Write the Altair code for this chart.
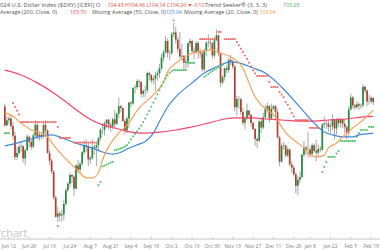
import altair as alt
import pandas as pd

# ---------------- data (U.S. Dollar Index, daily) ----------------
opens = [104.10, 103.35,
    103.55, 103.62, 103.33, 102.95, 102.12,
    102.27, 102.52, 102.54, 102.06, 102.38,
    102.91, 102.71, 102.52, 102.96, 103.37,
    102.91, 102.98, 102.92, 103.37, 103.15,
    102.27, 101.97, 101.55, 100.53, 99.78,
    99.91, 99.83, 99.88, 100.28, 100.82,
    101.07, 101.41, 101.34, 100.89, 101.78,
    101.62, 101.86, 102.30, 102.58, 102.55,
    102.02, 102.08, 102.51, 102.48, 102.58,
    102.85, 103.18, 103.18, 103.43, 103.57,
    103.37, 103.31, 103.59, 103.41, 103.81,
    104.10, 104.03, 103.52, 103.16, 103.62,
    104.24, 104.21, 104.82, 104.84, 105.08,
    105.05, 104.58, 104.71, 104.73, 105.40,
    105.32, 105.11, 105.17, 105.32, 105.39,
    105.58, 106.00, 106.21, 106.65, 106.18,
    106.17, 106.92, 106.98, 106.70, 106.34,
    106.04, 106.07, 105.80, 105.85, 106.56,
    106.65, 106.25, 106.22, 106.57, 106.25,
    106.16, 105.54, 106.26, 106.57, 106.59,
    106.56, 106.08, 106.67, 106.87, 106.16,
    105.02, 105.24, 105.58, 105.51, 105.91,
    105.85, 105.65, 104.06, 104.38, 104.37,
    103.87, 103.45, 103.62, 103.93, 103.76,
    103.44, 103.21, 102.82, 102.75, 103.50,
    103.27, 103.67, 103.99, 104.11, 103.62,
    104.00, 104.10, 103.87, 102.88, 101.93,
    102.55, 102.57, 102.18, 102.41, 101.82,
    101.70, 101.44, 100.99, 101.23,
    101.33, 102.20, 102.49, 102.42,
    102.41, 102.23, 102.57, 102.36, 102.28,
    102.43, 102.40, 103.38, 103.43, 103.42,
    103.29, 103.32, 103.59, 103.23, 103.58,
    103.44, 103.59, 103.41, 103.28, 103.07,
    103.97, 104.44, 104.13, 104.06, 104.18,
    104.12, 104.14, 104.86, 104.71, 104.28,
    104.29, 104.43]
highs = [104.20, 103.70,
    103.70, 103.75, 103.50, 103.10, 102.50,
    102.60, 102.70, 102.60, 102.45, 103.00,
    102.95, 102.80, 103.05, 103.55, 103.45,
    103.10, 103.05, 103.45, 103.55, 103.20,
    102.40, 102.05, 101.60, 100.60, 100.15,
    100.00, 100.05, 100.45, 100.90, 101.15,
    101.50, 101.45, 101.40, 101.85, 102.00,
    101.90, 102.35, 102.75, 102.80, 102.65,
    102.15, 102.80, 102.60, 102.65, 102.90,
    103.25, 103.45, 103.50, 103.60, 103.60,
    103.45, 103.65, 103.95, 103.85, 104.45,
    104.15, 104.05, 103.60, 103.70, 104.25,
    104.30, 104.80, 104.95, 105.15, 105.15,
    105.05, 104.75, 104.90, 105.45, 105.45,
    105.35, 105.25, 105.45, 105.50, 105.75,
    106.15, 106.30, 106.85, 106.75, 106.30,
    107.00, 107.35, 107.20, 106.80, 107.00,
    106.55, 106.10, 106.00, 106.60, 106.75,
    106.70, 106.40, 106.65, 106.65, 106.35,
    106.30, 106.35, 106.65, 106.90, 106.70,
    106.60, 106.80, 107.10, 106.90, 106.20,
    105.30, 105.60, 105.70, 106.00, 106.10,
    105.90, 105.70, 104.50, 104.50, 104.45,
    104.05, 103.70, 104.20, 103.95, 103.80,
    103.50, 103.25, 102.90, 103.55, 103.65,
    103.85, 104.15, 104.25, 104.15, 104.20,
    104.15, 104.15, 104.00, 102.95, 102.65,
    102.70, 102.60, 102.50, 102.45, 101.95,
    101.80, 101.50, 101.35, 101.55,
    102.25, 102.75, 102.55, 103.10,
    102.50, 102.65, 102.65, 102.80, 102.60,
    102.55, 103.45, 103.70, 103.55, 103.55,
    103.45, 103.80, 103.60, 103.65, 103.65,
    103.65, 103.60, 103.60, 103.35, 104.10,
    104.60, 104.50, 104.20, 104.30, 104.25,
    104.20, 104.97, 104.90, 104.75, 104.55,
    104.50, 104.43]
lows = [103.30, 103.35,
    103.40, 103.20, 102.80, 102.00, 102.00,
    102.20, 102.30, 101.90, 101.80, 102.35,
    102.50, 102.40, 102.45, 102.90, 102.80,
    102.75, 102.80, 102.85, 102.90, 102.25,
    101.80, 101.45, 100.45, 99.75, 99.57,
    99.60, 99.58, 99.65, 100.20, 100.75,
    100.95, 101.10, 100.60, 100.85, 101.50,
    101.45, 101.75, 102.20, 102.30, 101.75,
    101.85, 102.00, 102.20, 101.75, 102.40,
    102.75, 103.00, 102.95, 103.25, 103.20,
    103.10, 103.20, 103.25, 103.35, 103.65,
    103.85, 103.50, 103.00, 103.05, 103.25,
    104.05, 104.15, 104.60, 104.75, 104.85,
    104.45, 104.45, 104.45, 104.60, 105.10,
    105.00, 104.95, 104.70, 105.10, 105.20,
    105.50, 105.85, 106.15, 106.00, 105.90,
    106.10, 106.80, 106.55, 106.20, 105.95,
    105.90, 105.55, 105.55, 105.60, 106.40,
    106.15, 105.95, 106.15, 105.95, 106.00,
    105.45, 105.45, 106.05, 106.40, 106.30,
    105.95, 106.00, 106.65, 106.05, 104.85,
    104.95, 105.10, 105.40, 105.40, 105.70,
    105.55, 103.90, 103.75, 104.00, 103.75,
    103.35, 103.20, 103.55, 103.60, 103.30,
    103.15, 102.55, 102.45, 102.70, 103.05,
    103.20, 103.60, 103.85, 103.45, 103.55,
    103.95, 103.55, 102.85, 101.75, 101.90,
    102.40, 102.10, 102.10, 101.75, 101.50,
    101.35, 100.70, 100.62, 101.10,
    101.30, 102.10, 102.20, 102.10,
    102.10, 102.15, 102.30, 101.95, 102.10,
    102.30, 102.35, 103.25, 103.20, 103.10,
    103.05, 103.15, 102.80, 103.00, 103.30,
    103.25, 103.25, 103.05, 102.80, 102.90,
    103.95, 104.00, 103.95, 104.00, 103.95,
    104.00, 104.05, 104.60, 104.10, 104.15,
    104.20, 104.14]
closes = [103.35, 103.55,
    103.62, 103.33, 102.95, 102.12, 102.27,
    102.52, 102.54, 102.06, 102.38, 102.91,
    102.71, 102.52, 102.96, 103.37, 102.91,
    102.98, 102.92, 103.37, 103.15, 102.27,
    101.97, 101.55, 100.53, 99.78, 99.91,
    99.83, 99.88, 100.28, 100.82, 101.07,
    101.41, 101.34, 100.89, 101.78, 101.62,
    101.86, 102.30, 102.58, 102.55, 102.02,
    102.08, 102.51, 102.48, 102.58, 102.85,
    103.18, 103.18, 103.43, 103.57, 103.37,
    103.31, 103.59, 103.41, 103.81, 104.10,
    104.03, 103.52, 103.16, 103.62, 104.24,
    104.21, 104.82, 104.84, 105.08, 105.05,
    104.58, 104.71, 104.73, 105.40, 105.32,
    105.11, 105.17, 105.32, 105.39, 105.58,
    106.00, 106.21, 106.65, 106.18, 106.17,
    106.92, 106.98, 106.70, 106.34, 106.04,
    106.07, 105.80, 105.85, 106.56, 106.65,
    106.25, 106.22, 106.57, 106.25, 106.16,
    105.54, 106.26, 106.57, 106.59, 106.56,
    106.08, 106.67, 106.87, 106.16, 105.02,
    105.24, 105.58, 105.51, 105.91, 105.85,
    105.65, 104.06, 104.38, 104.37, 103.87,
    103.45, 103.62, 103.93, 103.76, 103.44,
    103.21, 102.82, 102.75, 103.50, 103.27,
    103.67, 103.99, 104.11, 103.62, 104.00,
    104.10, 103.87, 102.88, 101.93, 102.55,
    102.57, 102.18, 102.41, 101.82, 101.70,
    101.44, 100.99, 101.23, 101.33,
    102.20, 102.49, 102.42, 102.41,
    102.23, 102.57, 102.36, 102.28, 102.43,
    102.40, 103.38, 103.43, 103.42, 103.29,
    103.32, 103.59, 103.23, 103.58, 103.44,
    103.59, 103.41, 103.28, 103.07, 103.97,
    104.44, 104.13, 104.06, 104.18, 104.12,
    104.14, 104.86, 104.71, 104.28, 104.29,
    104.43, 104.26]

# moving averages: (bar index, value)
ma200_idx = [-2, 6, 14, 22, 30, 38, 46, 54, 60, 66, 74, 82, 90, 98, 106, 112, 120, 126, 134, 142, 150, 157, 166, 174, 179]
ma200_val = [105.51, 105.32, 105.01, 104.62, 104.15, 103.68, 103.37, 103.21, 103.09, 103.05, 103.09, 103.17, 103.29, 103.44, 103.60, 103.64, 103.64, 103.60, 103.56, 103.52, 103.52, 103.56, 103.60, 103.68, 103.70]
ma50_idx = [-2, 4, 11, 17, 21, 25, 30, 36, 41, 46, 51, 54, 58, 64, 67, 71, 74, 78, 83, 90, 96, 102, 109, 113, 120, 126, 134, 142, 150, 155, 159, 164, 169, 172, 179]
ma50_val = [102.55, 102.66, 102.82, 102.94, 102.98, 102.90, 102.74, 102.58, 102.47, 102.31, 102.23, 102.27, 102.43, 102.62, 102.72, 103.05, 103.50, 104.07, 104.54, 105.01, 105.40, 105.63, 105.83, 105.79, 105.59, 105.40, 104.85, 104.15, 103.44, 103.09, 102.98, 102.90, 102.90, 102.98, 103.04]
ma20_idx = [-2, 1, 6, 11, 16, 19, 22, 27, 32, 35, 38, 41, 44, 46, 49, 54, 58, 64, 71, 76, 78, 83, 88, 93, 100, 104, 110, 115, 118, 121, 124, 127, 131, 134, 137, 142, 145, 148, 151, 155, 157, 161, 164, 169, 174, 179]
ma20_val = [103.83, 103.76, 103.44, 103.17, 103.05, 102.90, 102.58, 102.12, 101.73, 101.49, 101.30, 101.30, 101.49, 102.00, 102.51, 103.05, 103.35, 104.03, 104.54, 105.05, 105.44, 105.83, 106.10, 106.22, 106.30, 106.18, 105.98, 105.59, 105.01, 104.46, 104.15, 103.95, 103.68, 103.29, 102.98, 102.66, 102.47, 102.19, 102.12, 102.19, 102.47, 102.66, 102.90, 103.25, 103.56, 103.94]

# Trend Seeker dots: (bar index, value)
red_dot_idx = ([2, 3, 4, 5] + list(range(6, 24)) + [24] + list(range(25, 31)) + list(range(32, 44))
               + list(range(94, 102)) + [103, 104] + list(range(106, 112))
               + list(range(112, 122)) + list(range(122, 128)) + [128] + list(range(129, 133))
               + list(range(133, 140)) + [140] + list(range(141, 148)) + list(range(148, 153)))
red_dot_val = ([104.22, 104.07, 103.93, 103.78] + [103.48] * 18 + [103.29] + [102.86] * 6 + [102.68] * 12
               + [106.72] * 8 + [107.0, 107.0] + [106.72] * 6
               + [106.61, 106.48, 106.35, 106.22, 106.08, 105.95, 105.80, 105.65, 105.50, 105.38]
               + [105.28] * 6 + [105.05] + [104.85] * 4
               + [104.65, 104.55, 104.45, 104.26, 104.15, 104.00, 103.83] + [103.70] + [103.56] * 7 + [103.25] * 5)
green_dot_idx = ([-2, -1, 0, 44, 45] + list(range(46, 52)) + list(range(52, 58)) + list(range(58, 81))
                 + list(range(81, 88)) + list(range(88, 92)) + list(range(96, 106))
                 + [154, 155, 156] + list(range(157, 161)) + [161, 162] + list(range(163, 171))
                 + [171, 172] + list(range(173, 177)) + list(range(177, 180)))
green_dot_val = ([103.05, 103.05, 103.05, 101.02, 101.14]
                 + [101.75, 101.78, 101.82, 101.86, 101.90, 101.93]
                 + [102.38, 102.40, 102.42, 102.45, 102.48, 102.52]
                 + [102.58, 102.68, 102.80, 102.92, 103.02, 103.12, 103.22, 103.34, 103.48, 103.62, 103.78,
                    103.92, 104.08, 104.24, 104.40, 104.56, 104.72, 104.88, 105.04, 105.18, 105.30, 105.40, 105.46]
                 + [105.51] * 7 + [105.79] * 4
                 + [105.25, 105.30, 105.36, 105.42, 105.47, 105.52, 105.57, 105.62, 105.67, 105.72]
                 + [101.53, 101.73, 101.92] + [102.12] * 4 + [102.25, 102.35] + [102.74] * 8
                 + [102.90, 103.05] + [103.17] * 4 + [103.29] * 3)
hi_mark = (81, 107.45)
lo_mark = (24, 99.42)

tick_labels = ["Jun 12", "Jun 26", "Jul 10", "Jul 24", "Aug 7", "Aug 21", "Sep 4", "Sep 18", "Oct 2",
               "Oct 16", "Oct 30", "Nov 13", "Nov 27", "Dec 11", "Dec 26", "Jan 8", "Jan 22", "Feb 5", "Feb 19"]

# ---------------- build tables ----------------
days = pd.bdate_range("2023-06-08", "2024-02-20")
days = [d for d in days if d.strftime("%m-%d") not in ("12-25", "01-01")]
idx = list(range(-2, len(days) - 2))
assert len(days) == len(opens) == len(highs) == len(lows) == len(closes)
assert len(red_dot_idx) == len(red_dot_val) and len(green_dot_idx) == len(green_dot_val)

candles = pd.DataFrame({"i": idx, "o": opens, "h": highs, "l": lows, "c": closes})
up = candles[candles["c"] >= candles["o"]]
down = candles[candles["c"] < candles["o"]]

label_pos = []
for lab in tick_labels:
    for k, d in enumerate(days):
        if d.strftime("%b %-d") == lab:
            label_pos.append(idx[k])
            break
ticks = pd.DataFrame({"i": label_pos, "lab": tick_labels})

W, H = 380, 250
xs = alt.Scale(domain=[-1.91, 179.9], nice=False, zero=False)
ys = alt.Scale(domain=[98.483, 108.248], nice=False, zero=False)
X = alt.X("i:Q", scale=xs, axis=None)
def Y(f):
    return alt.Y(f, scale=ys, axis=None)

wicks = alt.Chart(candles).mark_rule(color="#a8a8a8", strokeWidth=1).encode(x=X, y=Y("l:Q"), y2="h:Q")
bodies_up = alt.Chart(up).mark_bar(size=1.7, color="#1f8c3d").encode(x=X, y=Y("o:Q"), y2="c:Q")
bodies_dn = alt.Chart(down).mark_bar(size=1.7, color="#b23f2c").encode(x=X, y=Y("o:Q"), y2="c:Q")

def ma_line(ix, vals, color):
    return alt.Chart(pd.DataFrame({"i": ix, "v": vals})).mark_line(
        strokeWidth=1.2, interpolate="monotone", color=color).encode(x=X, y=Y("v:Q"))

line200 = ma_line(ma200_idx, ma200_val, "#f1466b")
line50 = ma_line(ma50_idx, ma50_val, "#3f88dc")
line20 = ma_line(ma20_idx, ma20_val, "#f7a25a")

def dot_layer(ix, vals, color):
    return alt.Chart(pd.DataFrame({"i": ix, "v": vals})).mark_square(
        size=3, opacity=1, color=color).encode(x=X, y=Y("v:Q"))

red_dots = dot_layer(red_dot_idx + [lo_mark[0]], red_dot_val + [lo_mark[1]], "#f0625f")
green_dots = dot_layer(green_dot_idx + [hi_mark[0]], green_dot_val + [hi_mark[1]], "#46c068")

axis_line = alt.Chart(ticks).mark_rule(color="#e2e2e2", strokeWidth=1).encode(
    x=alt.value(0), x2=alt.value(W), y=alt.value(239))
tick_marks = alt.Chart(ticks).mark_rule(color="#cfcfcf", strokeWidth=1).encode(
    x=X, y=alt.value(236.5), y2=alt.value(239))
tick_text = alt.Chart(ticks).mark_text(fontSize=5, color="#808080", font="Open Sans", baseline="middle").encode(
    x=X, y=alt.value(245.5), text="lab:N")

one = pd.DataFrame({"a": [0]})
FONT = "Open Sans"
def seg(txt, x, y, color, size):
    return alt.Chart(one).mark_text(text=txt, x=x, y=y, align="left", baseline="middle",
                                    fontSize=size, font=FONT, color=color)

GREY = "#555555"
RED = "#e84a3f"
L1, L2, NS = 5.85, 5.45, 5.2
header = [
    seg("024 U.S. Dollar Index ($DXY) [ICEFI] O", 0, 4.5, GREY, L1),
    seg("104.43 H104.43 L104.14 C104.26 \u25bc-0.10", 107.5, 4.5, RED, NS),
    seg("Trend Seeker\u00ae (3, 3, 3)", 205, 4.5, GREY, L1),
    seg("103.29", 283, 4.5, "#3bb55c", NS),
    seg("Average (200, Close, 0)", 0, 11.5, GREY, L2),
    seg("103.70", 70, 11.5, RED, NS),
    seg("Moving Average (50, Close, 0)", 92, 11.5, GREY, L2),
    seg("103.04", 165.5, 11.5, "#3f88dc", NS),
    seg("Moving Average (20, Close, 0)", 184, 11.5, GREY, L2),
    seg("103.94", 259.5, 11.5, "#f39a3c", NS),
]
logo = alt.Chart(one).mark_text(text="barchart", x=27.5, y=237, align="right", baseline="alphabetic",
                                fontSize=11, font=FONT, color="#c4c4c4")

chart = alt.layer(
    axis_line, tick_marks, tick_text, logo,
    wicks, bodies_up, bodies_dn, line200, line50, line20, red_dots, green_dots, *header
).properties(
    width=W, height=H, padding=0,
    autosize=alt.AutoSizeParams(type="none"),
    background="white",
).configure_view(stroke=None)

chart.save("out.html", embed_options={"renderer": "svg", "actions": False})
